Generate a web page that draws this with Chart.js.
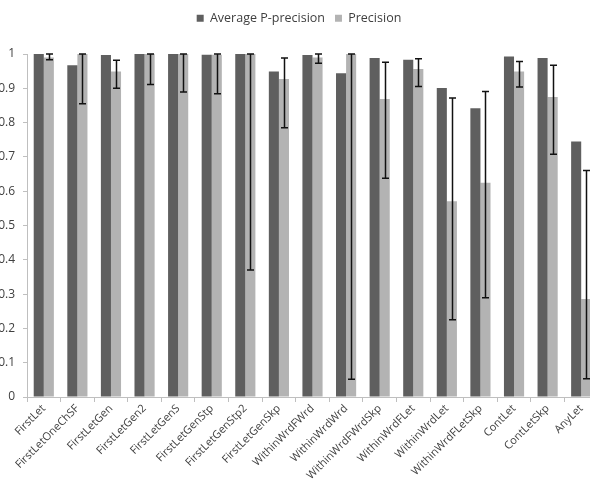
<!DOCTYPE html>
<html>
<head>
<meta charset="utf-8">
<script src="https://cdn.jsdelivr.net/npm/chart.js@4.4.1/dist/chart.umd.min.js"></script>
<style>
  html, body { margin: 0; padding: 0; overflow: hidden; background: #fff; }
  #wrap { width: 599px; height: 495px; position: relative; }
</style>
</head>
<body>
<div id="wrap"><canvas id="c"></canvas></div>
<script>
const categories = [
  'FirstLet', 'FirstLetOneChSF', 'FirstLetGen', 'FirstLetGen2', 'FirstLetGenS',
  'FirstLetGenStp', 'FirstLetGenStp2', 'FirstLetGenSkp', 'WithinWrdFWrd',
  'WithinWrdWrd', 'WithinWrdFWrdSkp', 'WithinWrdFLet', 'WithinWrdLet',
  'WithinWrdFLetSkp', 'ContLet', 'ContLetSkp', 'AnyLet'
];
const avgPPrecision = [1.0, 0.967, 0.997, 1.0, 1.0, 0.998, 1.0, 0.949, 0.997, 0.944, 0.988, 0.983, 0.901, 0.842, 0.993, 0.988, 0.745];
const precision     = [0.99, 1.0, 0.949, 1.0, 1.0, 0.998, 1.0, 0.927, 0.99, 1.0, 0.869, 0.956, 0.571, 0.625, 0.949, 0.875, 0.286];
// lower / upper ends of the error bars on Precision
const precisionLow  = [0.983, 0.855, 0.90, 0.911, 0.889, 0.884, 0.37, 0.785, 0.973, 0.052, 0.638, 0.905, 0.225, 0.289, 0.904, 0.708, 0.053];
const precisionHigh = [1.0, 1.0, 0.982, 1.0, 1.0, 1.0, 1.0, 0.988, 1.0, 1.0, 0.976, 0.986, 0.872, 0.891, 0.978, 0.967, 0.660];
const yTicks = [0, 0.1, 0.2, 0.3, 0.4, 0.5, 0.6, 0.7, 0.8, 0.9, 1];

const FONT = '"Open Sans", "Liberation Sans", sans-serif';
const TEXT = '#404040';
const AXIS = '#bfbfbf';

const errorBars = {
  id: 'errorBars',
  afterDatasetsDraw(chart) {
    const meta = chart.getDatasetMeta(1);
    const y = chart.scales.y;
    const ctx = chart.ctx;
    ctx.save();
    ctx.strokeStyle = '#111';
    ctx.lineWidth = 1.5;
    meta.data.forEach((bar, i) => {
      const x = Math.round(bar.x) + 0.5;
      const yl = y.getPixelForValue(precisionLow[i]);
      const yh = y.getPixelForValue(precisionHigh[i]);
      ctx.beginPath();
      ctx.moveTo(x, yl); ctx.lineTo(x, yh);
      ctx.moveTo(x - 3.5, yl); ctx.lineTo(x + 3.5, yl);
      ctx.moveTo(x - 3.5, yh); ctx.lineTo(x + 3.5, yh);
      ctx.stroke();
    });
    ctx.restore();
  }
};

const legendHeight = {
  id: 'legendHeight',
  beforeInit(chart) {
    const fit = chart.legend.fit;
    chart.legend.fit = function () { fit.call(this); this.height = 52; };
  }
};

new Chart(document.getElementById('c'), {
  type: 'bar',
  data: {
    labels: categories,
    datasets: [
      { label: 'Average P-precision', data: avgPPrecision, backgroundColor: '#5f5f5f' },
      { label: 'Precision', data: precision, backgroundColor: '#b3b3b3' }
    ]
  },
  options: {
    responsive: true,
    maintainAspectRatio: false,
    animation: false,
    layout: { padding: { left: 0, right: 1, top: 2, bottom: 0 } },
    datasets: { bar: { categoryPercentage: 0.6, barPercentage: 1.0 } },
    plugins: {
      legend: {
        position: 'top',
        labels: {
          boxWidth: 7, boxHeight: 7, padding: 10,
          color: TEXT, font: { family: FONT, size: 12.5 }
        }
      },
      tooltip: { enabled: false }
    },
    scales: {
      x: {
        grid: { drawOnChartArea: false, color: AXIS, tickLength: 5, offset: true },
        border: { color: AXIS },
        ticks: {
          color: TEXT, font: { family: FONT, size: 11 },
          maxRotation: 45, minRotation: 45, autoSkip: false, padding: 0
        },
        afterFit(s) { s.height = 98; }
      },
      y: {
        min: 0, max: 1,
        afterBuildTicks(s) { s.ticks = yTicks.map(v => ({ value: v })); },
        grid: { drawOnChartArea: false, color: AXIS, tickLength: 4 },
        border: { color: AXIS },
        ticks: {
          color: TEXT, font: { family: FONT, size: 12 }, padding: 8,
          callback: v => String(+v.toFixed(1))
        },
        afterFit(s) { s.width = 27; }
      }
    }
  },
  plugins: [errorBars, legendHeight]
});
</script>
</body>
</html>
